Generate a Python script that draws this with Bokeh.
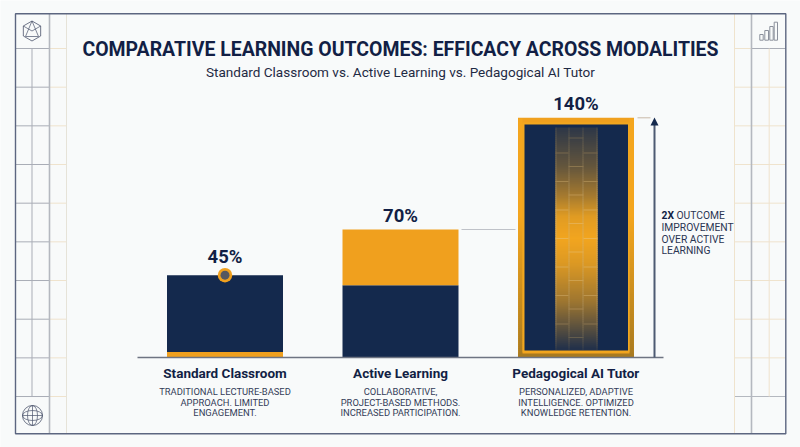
from bokeh.plotting import figure
from bokeh.models import Range1d
from bokeh.core.properties import value
from bokeh.embed import file_html
from bokeh.resources import INLINE
import math
import numpy as np

# ---- chart content ----
title = "COMPARATIVE LEARNING OUTCOMES: EFFICACY ACROSS MODALITIES"
subtitle = "Standard Classroom vs. Active Learning vs. Pedagogical AI Tutor"
categories = ["Standard Classroom", "Active Learning", "Pedagogical AI Tutor"]
value_labels = ["45%", "70%", "140%"]
# drawn bar tops: the reference's 140% bar stops short of a true linear 140
drawn_tops = [45, 70, 131]
navy_part = [[3, 45], [0, 39.5]]     # navy span in the first two bars
amber_part = [[0, 3], [39.5, 70]]    # amber span in the first two bars
descriptions = [
    ["TRADITIONAL LECTURE-BASED", "APPROACH. LIMITED", "ENGAGEMENT."],
    ["COLLABORATIVE,", "PROJECT-BASED METHODS.", "INCREASED PARTICIPATION."],
    ["PERSONALIZED, ADAPTIVE", "INTELLIGENCE. OPTIMIZED", "KNOWLEDGE RETENTION."],
]
note_bold = "2X"
note_lines = ["OUTCOME", "IMPROVEMENT", "OVER ACTIVE", "LEARNING"]

NAVY = "#14294d"
AMBER = "#f0a01e"
INK = "#121f45"
FONT = value("Roboto")
BG = "#f8fafa"

# category axis: bar centre 224.5 + 175.5*i px; value axis: 357 - 1.83*v px
SX, X0, SY = 175.5, 224.5, 1.83
p = figure(width=800, height=447, output_backend="svg", toolbar_location=None,
           x_range=Range1d((0 - X0) / SX, (800 - X0) / SX),
           y_range=Range1d((357 - 447) / SY, (357 - 0) / SY),
           min_border=0, outline_line_color=None, background_fill_color=BG,
           border_fill_color=BG)
p.axis.visible = False
p.grid.visible = False
p.extra_x_ranges = {"px": Range1d(0, 800)}
p.extra_y_ranges = {"px": Range1d(447, 0)}
PX = dict(x_range_name="px", y_range_name="px")


def mix(c0, c1, t):
    """Opaque blend of two #rrggbb colours."""
    a = [int(c0[i:i + 2], 16) for i in (1, 3, 5)]
    b = [int(c1[i:i + 2], 16) for i in (1, 3, 5)]
    return "#%02x%02x%02x" % tuple(round(u + (v - u) * t) for u, v in zip(a, b))


def seg(x0, y0, x1, y1, color, w=1.0, alpha=1.0):
    p.segment([x0], [y0], [x1], [y1], line_color=color, line_width=w, line_alpha=alpha, **PX)


def box(l, t, r, b, color, alpha=1.0):
    p.quad(left=[l], right=[r], top=[t], bottom=[b], fill_color=color, fill_alpha=alpha,
           line_color=None, **PX)


def ramp(l, r, ys, colors):
    """Vertical ramp of opaque strips that overlap, so no seams show."""
    p.quad(left=[l] * len(ys), right=[r] * len(ys), top=ys, bottom=[y + 2.6 for y in ys],
           fill_color=colors, line_color=None, **PX)


def txt(x, y, s, size, color=INK, style="normal", align="center"):
    p.text([x], [y], text=[s], text_font=FONT, text_font_size=f"{size}px", text_color=color,
           text_font_style=style, text_align=align, text_baseline="middle", **PX)


# ---- decorative frame and side grids ----
TAN, DARK = "#efe3cd", "#5c6680"
rows = [48 + 38.67 * k for k in range(10)]
for y in rows:
    seg(15, y, 49, y, "#a9adb6", 1)
    seg(49, y, 66, y, TAN, 1)
seg(31.5, 48, 31.5, 396, "#a9adb6", 1)
seg(49, 13, 49, 433, "#b4b8bf", 1.6)
seg(66, 13, 66, 433, "#e6e3d8", 1)
for y in rows[1:-1]:
    seg(734, y, 785, y, TAN, 1)
seg(734, 48, 751, 48, TAN, 1)
seg(751, 48, 785, 48, "#a9adb6", 1)
seg(734, 396, 785, 396, "#b4b8bf", 1)
seg(734, 13, 734, 433, TAN, 1)
seg(751, 13, 751, 433, "#b4b8bf", 1.6)
seg(768.7, 48, 768.7, 396, TAN, 1)
p.quad(left=[15], right=[785.3], top=[13.3], bottom=[433.3], fill_alpha=0,
       line_color=DARK, line_width=1.4, **PX)

# hexagon icon
hx = [31.5 + 10 * math.sin(math.radians(60 * k)) for k in range(7)]
hy = [30.5 - 10 * math.cos(math.radians(60 * k)) for k in range(7)]
p.line(hx, hy, line_color="#4a536b", line_width=0.8, **PX)
for k in (1, 3, 5):
    seg(31.5, 30.5 if k != 3 else 40.5, hx[k], hy[k], "#4a536b", 0.7)
seg(31.5, 20.5, 25, 36, "#4a536b", 0.7)
seg(31.5, 20.5, 38, 36, "#4a536b", 0.7)
seg(25, 36, 38, 36, "#4a536b", 0.7)
# globe icon
p.ellipse([32], [415], width=[20], height=[20], fill_alpha=0, line_color="#4a536b", line_width=0.8, **PX)
p.ellipse([32], [415], width=[10], height=[20], fill_alpha=0, line_color="#4a536b", line_width=0.7, **PX)
p.ellipse([32], [415], width=[20], height=[10], fill_alpha=0, line_color="#4a536b", line_width=0.7, **PX)
seg(22, 415, 42, 415, "#4a536b", 0.7)
seg(32, 405, 32, 425, "#4a536b", 0.7)
# bars icon
p.quad(left=[759.3, 764.3, 769.3, 773.7], right=[762.7, 768, 772.7, 777],
       top=[34, 30, 26, 21.7], bottom=[39.7] * 4, fill_alpha=0,
       line_color="#8b909c", line_width=1, **PX)

# ---- titles ----
txt(400, 49, title, 19.45, style="bold")
txt(400, 71, subtitle, 13.55, color="#1f2a44")

# ---- bars, from the data ----
W = 116 / SX
for i in range(2):
    p.vbar(x=[i], width=W, bottom=[navy_part[i][0]], top=[navy_part[i][1]], fill_color=NAVY, line_color=None)
    p.vbar(x=[i], width=W, bottom=[amber_part[i][0]], top=[amber_part[i][1]], fill_color=AMBER, line_color=None)

# tall bar: outer frame shades from bright amber down to a dark bronze
p.vbar(x=[2], width=W, bottom=[0], top=[drawn_tops[2]], fill_color=AMBER, line_color=None)
ys = list(range(118, 355, 2))
rim = [mix("#f4a61e", "#a87a20", max(0, ((y - 118) / 239 - 0.4) / 0.6)) for y in ys]
ramp(517.7, 522, ys, rim)
ramp(629, 633.4, ys, rim)
box(517.7, 353, 633.4, 357, "#a87a20")
box(522, 122, 629, 352, "#f2a71f")
box(524, 124, 627.5, 350, NAVY)

# glowing brick column: brightness read at a few heights of the reference
glow_y = [127, 165, 195, 215, 237, 262, 300, 325, 350]
glow_v = [0.12, 0.36, 0.66, 0.92, 1.0, 0.9, 0.62, 0.33, 0.03]


def glow(y):
    return float(np.interp(y, glow_y, glow_v))


top, bottom = glow_y[0], glow_y[-1]
gy = list(range(top, bottom - 2, 2))
ramp(555, 597, gy, [mix(NAVY, "#f2a51f", glow(y)) for y in gy])
BRICK = "#f8bb4e"
for x in (555, 568, 582, 596):
    ramp(x, x + 1, gy, [mix(NAVY, BRICK, glow(y) ** 0.65 * 0.9) for y in gy])
for y in [152 + 28.5 * k for k in range(7)]:
    c = mix(NAVY, BRICK, glow(y) ** 0.6 * 0.95)
    box(555, y, 568, y + 1, c)
    box(583, y, 597, y + 1, c)
for y in [137 + 28.5 * k for k in range(8)]:
    box(568, y, 583, y + 1, mix(NAVY, BRICK, glow(y) ** 0.6 * 0.95))

# baseline, leaders, arrow
seg(137, 357, 663, 357, "#6e7482", 1.4)
seg(461, 229, 515, 229, "#bfc2c8", 1)
seg(637, 117.3, 650, 117.3, "#c9b9a8", 1)
seg(654, 124, 654, 357, "#4d5a72", 2)
p.patch([654, 650, 658], [117, 125, 125], fill_color=NAVY, line_color=None, **PX)

# marker on the first bar
p.scatter([0], [drawn_tops[0]], size=14.5, fill_color=AMBER, line_color=None)
p.scatter([0], [drawn_tops[0]], size=9, fill_color="#565760", line_color=None)

# value labels
p.text([0, 1, 2], drawn_tops, text=value_labels, text_font=FONT, text_font_size="18.5px",
       text_font_style="bold", text_color=INK, text_align="center", text_baseline="middle",
       y_offset=[-18, -13.5, -13.5])

# category names and descriptions
for i, name in enumerate(categories):
    cx = X0 + SX * i
    txt(cx, 372.5, name, 13.5, style="bold")
    for j, line in enumerate(descriptions[i]):
        txt(cx, 391 + 10.7 * j, line, 9.4, color="#333c58")

# annotation
txt(661, 215, note_bold, 10.3, style="bold", align="left")
txt(676, 215, note_lines[0], 10.3, color="#2a3552", align="left")
for j, line in enumerate(note_lines[1:], start=1):
    txt(661, 215 + 11.8 * j, line, 10.3, color="#2a3552", align="left")

open("out.html", "w").write(file_html(p, INLINE))
